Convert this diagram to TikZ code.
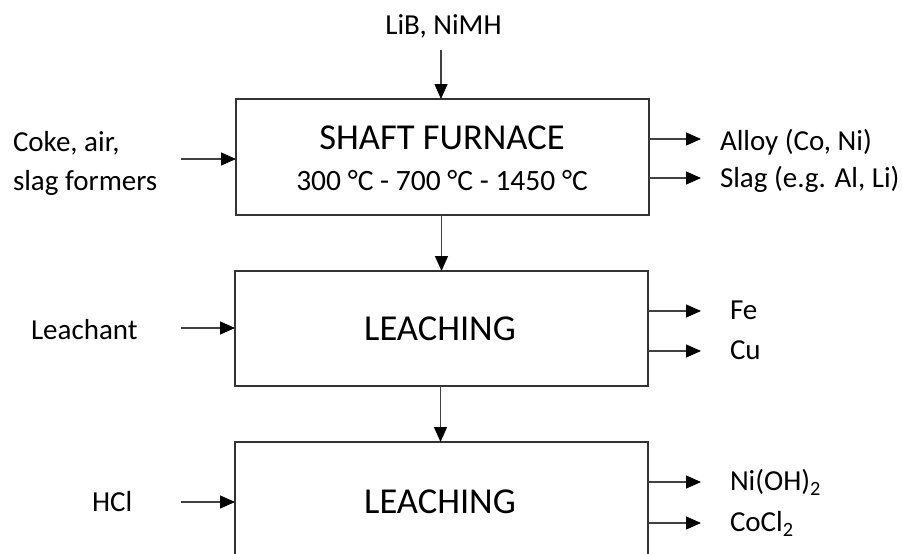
\documentclass[tikz,border=0pt]{standalone}
\usepackage{fontspec}
\setmainfont{Carlito}
\usetikzlibrary{arrows.meta}
\begin{document}
\begin{tikzpicture}[x=1pt,y=-1pt,
  box/.style={draw=black!80, line width=1.3pt, minimum width=413pt, minimum height=116pt, inner sep=0pt, outer sep=0pt, anchor=north west},
  lbl/.style={font=\fontsize{29}{39}\selectfont, inner sep=0pt, outer sep=0pt},
  ttl/.style={font=\fontsize{36.5}{40}\selectfont, inner sep=0pt, outer sep=0pt},
  temp/.style={font=\fontsize{29.5}{34}\selectfont, inner sep=0pt, outer sep=0pt},
  arr/.style={draw=black!75, line width=1.3pt, -{Triangle[length=15pt,width=13pt,fill=black,color=black]}},
]
\useasboundingbox (0,0) rectangle (902,554);
\clip (0,0) rectangle (902,554);
\fill[white] (0,0) rectangle (902,554);

% boxes
\node[box] (b1) at (236,99) {};
\node[box, minimum height=115pt] (b2) at (235,271) {};
\node[box, minimum height=200pt] (b3) at (235,442) {};

% box texts
\node[ttl, anchor=base] (t1) at (442,149.3) {SHAFT FURNACE};
\node[temp, anchor=base] (t1b) at (442,190.7) {300 °C - 700 °C - 1450 °C};
\node[ttl, anchor=base] (t2) at (440,340.7) {LEACHING};
\node[ttl, anchor=base] (t3) at (440,513.3) {LEACHING};

% labels
\node[lbl, anchor=base] (lib) at (443.5,34.3) {LiB, NiMH};
\node[lbl, anchor=base west, align=left] (coke) at (13,190.7) {Coke, air,\\slag formers};
\node[lbl, anchor=base west] (leach) at (31,339) {Leachant};
\node[lbl, anchor=base west] (hcl) at (92,511.7) {HCl};
\node[lbl, anchor=base west] (alloy) at (720,150.7) {Alloy (Co, Ni)};
\node[lbl, anchor=base west] (slag) at (720,187) {Slag (e.g. Al, Li)};
\node[lbl, anchor=base west] (fe) at (730,319) {Fe};
\node[lbl, anchor=base west] (cu) at (730,359.3) {Cu};
\node[lbl, anchor=base west] (nioh) at (730,490.7) {Ni(OH)\textsubscript{2}};
\node[lbl, anchor=base west] (cocl) at (730,531.7) {CoCl\textsubscript{2}};

% vertical arrows
\coordinate (libs) at (441,50);
\draw[arr] (libs) -- (libs |- b1.north);
\draw[arr] ([xshift=-1pt]b1.south) -- ([xshift=-1pt]b1.south |- b2.north);
\draw[arr] ([xshift=-1pt]b2.south) -- ([xshift=-1pt]b2.south |- b3.north);

% left arrows
\coordinate (l1) at (181,159);
\coordinate (l2) at (181,328);
\coordinate (l3) at (181,502);
\draw[arr] (l1) -- (l1 -| b1.west);
\draw[arr] (l2) -- (l2 -| b2.west);
\draw[arr] (l3) -- (l3 -| b3.west);

% right arrows
\coordinate (r1) at (701,139);
\coordinate (r2) at (701,178);
\coordinate (r3) at (701,311);
\coordinate (r4) at (701,351);
\coordinate (r5) at (701,482);
\coordinate (r6) at (701,523);
\draw[arr] (r1 -| b1.east) -- (r1);
\draw[arr] (r2 -| b1.east) -- (r2);
\draw[arr] (r3 -| b2.east) -- (r3);
\draw[arr] (r4 -| b2.east) -- (r4);
\draw[arr] (r5 -| b3.east) -- (r5);
\draw[arr] (r6 -| b3.east) -- (r6);
\end{tikzpicture}
\end{document}
